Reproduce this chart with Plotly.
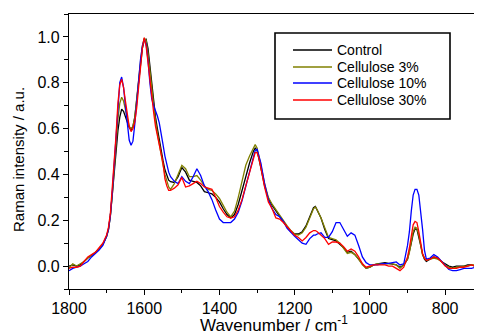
import plotly.graph_objects as go

wavenumber = [
    1800, 1790, 1780, 1770, 1760, 1750, 1740, 1730, 1720, 1710,
    1700, 1695, 1690, 1685, 1680, 1675, 1670, 1665, 1660, 1655,
    1650, 1645, 1640, 1635, 1630, 1625, 1620, 1615, 1610, 1605,
    1600, 1595, 1590, 1585, 1580, 1575, 1570, 1565, 1560, 1555,
    1550, 1545, 1540, 1535, 1530, 1520, 1510, 1500, 1490, 1480,
    1470, 1460, 1450, 1440, 1430, 1420, 1410, 1400, 1390, 1380,
    1370, 1360, 1350, 1340, 1330, 1320, 1310, 1305, 1300, 1295,
    1290, 1280, 1270, 1260, 1250, 1240, 1230, 1220, 1210, 1200,
    1190, 1180, 1170, 1160, 1150, 1145, 1140, 1130, 1120, 1110,
    1100, 1090, 1080, 1070, 1060, 1050, 1040, 1030, 1020, 1010,
    1000, 990, 980, 970, 960, 950, 940, 930, 920, 910,
    900, 895, 890, 885, 880, 875, 870, 865, 860, 855,
    850, 840, 830, 820, 810, 800, 790, 780, 770, 760,
    750, 740, 730, 720, 710, 702,
]

control = [
    0.00, 0.005, 0.00, 0.005, 0.02, 0.035, 0.045, 0.06, 0.075, 0.095,
    0.13, 0.16, 0.22, 0.31, 0.41, 0.51, 0.59, 0.65, 0.685, 0.675,
    0.65, 0.625, 0.605, 0.595, 0.61, 0.65, 0.72, 0.80, 0.88, 0.95,
    0.985, 0.99, 0.95, 0.87, 0.78, 0.70, 0.65, 0.60, 0.55, 0.51,
    0.46, 0.42, 0.395, 0.375, 0.368, 0.365, 0.39, 0.43, 0.41, 0.375,
    0.37, 0.365, 0.35, 0.325, 0.32, 0.315, 0.30, 0.28, 0.25, 0.225,
    0.21, 0.225, 0.27, 0.33, 0.40, 0.45, 0.50, 0.515, 0.505, 0.47,
    0.43, 0.35, 0.295, 0.265, 0.24, 0.22, 0.195, 0.17, 0.15, 0.14,
    0.14, 0.15, 0.175, 0.215, 0.255, 0.26, 0.245, 0.21, 0.16, 0.12,
    0.115, 0.11, 0.095, 0.08, 0.06, 0.065, 0.05, 0.03, 0.01, -0.01,
    -0.005, 0.005, 0.01, 0.012, 0.015, 0.012, 0.01, 0.005, -0.005, 0.005,
    0.03, 0.06, 0.10, 0.14, 0.163, 0.16, 0.13, 0.09, 0.05, 0.03,
    0.02, 0.03, 0.04, 0.035, 0.02, 0.01, 0.0, -0.005, 0.0, 0.0,
    0.0, 0.005, 0.005, 0.0, 0.005, 0.0,
]

cellulose_3 = [
    -0.01, 0.01, 0.0, 0.01, 0.02, 0.035, 0.045, 0.06, 0.075, 0.095,
    0.13, 0.16, 0.22, 0.31, 0.42, 0.54, 0.64, 0.71, 0.737, 0.72,
    0.68, 0.64, 0.61, 0.60, 0.61, 0.65, 0.72, 0.81, 0.89, 0.96,
    0.995, 0.985, 0.93, 0.85, 0.76, 0.69, 0.63, 0.58, 0.53, 0.48,
    0.44, 0.40, 0.37, 0.345, 0.335, 0.36, 0.40, 0.44, 0.425, 0.39,
    0.39, 0.395, 0.375, 0.35, 0.335, 0.33, 0.315, 0.295, 0.265, 0.235,
    0.215, 0.24, 0.30, 0.375, 0.44, 0.48, 0.515, 0.53, 0.515, 0.48,
    0.44, 0.36, 0.30, 0.27, 0.245, 0.225, 0.20, 0.175, 0.155, 0.14,
    0.135, 0.145, 0.17, 0.21, 0.25, 0.258, 0.245, 0.21, 0.17, 0.125,
    0.12, 0.115, 0.10, 0.08, 0.055, 0.06, 0.05, 0.03, 0.005, -0.01,
    -0.005, 0.005, 0.01, 0.01, 0.01, 0.01, 0.01, 0.005, -0.01, 0.005,
    0.03, 0.06, 0.11, 0.15, 0.17, 0.165, 0.135, 0.09, 0.05, 0.035,
    0.025, 0.03, 0.035, 0.03, 0.02, 0.005, -0.005, -0.01, -0.005, -0.005,
    0.0, 0.0, 0.005, 0.005, 0.0, 0.0,
]

cellulose_10 = [
    -0.02, -0.01, -0.005, 0.0, 0.01, 0.02, 0.04, 0.055, 0.07, 0.09,
    0.13, 0.16, 0.22, 0.32, 0.44, 0.58, 0.71, 0.80, 0.825, 0.78,
    0.70, 0.62, 0.55, 0.527, 0.545, 0.62, 0.72, 0.82, 0.90, 0.96,
    0.99, 0.97, 0.90, 0.80, 0.73, 0.70, 0.68, 0.655, 0.625, 0.585,
    0.53, 0.48, 0.44, 0.41, 0.39, 0.37, 0.36, 0.39, 0.37, 0.36,
    0.39, 0.425, 0.395, 0.35, 0.325, 0.29, 0.245, 0.205, 0.19, 0.19,
    0.19, 0.205, 0.235, 0.285, 0.35, 0.42, 0.48, 0.505, 0.51, 0.485,
    0.45, 0.36, 0.29, 0.25, 0.225, 0.215, 0.195, 0.165, 0.145, 0.13,
    0.115, 0.10, 0.095, 0.12, 0.135, 0.135, 0.14, 0.145, 0.125, 0.125,
    0.15, 0.19, 0.19, 0.16, 0.13, 0.145, 0.135, 0.09, 0.04, 0.015,
    0.005, 0.005, 0.005, 0.01, 0.01, 0.012, 0.015, 0.018, 0.005, 0.01,
    0.09, 0.15, 0.24, 0.31, 0.335, 0.335, 0.31, 0.24, 0.16, 0.07,
    0.03, 0.035, 0.05, 0.04, 0.02, 0.0, -0.015, -0.02, -0.02, -0.015,
    -0.01, -0.01, -0.01, -0.005, -0.005, -0.01,
]

cellulose_30 = [
    -0.01, -0.005, -0.005, 0.0, 0.02, 0.04, 0.05, 0.06, 0.08, 0.10,
    0.135, 0.17, 0.23, 0.33, 0.43, 0.57, 0.71, 0.79, 0.815, 0.78,
    0.72, 0.66, 0.61, 0.587, 0.60, 0.63, 0.69, 0.78, 0.87, 0.95,
    0.997, 0.96, 0.89, 0.81, 0.74, 0.67, 0.61, 0.565, 0.53, 0.49,
    0.45, 0.38, 0.35, 0.33, 0.33, 0.34, 0.355, 0.387, 0.345, 0.35,
    0.36, 0.37, 0.36, 0.345, 0.34, 0.335, 0.30, 0.26, 0.235, 0.215,
    0.21, 0.215, 0.245, 0.29, 0.35, 0.41, 0.47, 0.495, 0.495, 0.47,
    0.43, 0.345, 0.28, 0.25, 0.21, 0.205, 0.19, 0.17, 0.15, 0.135,
    0.125, 0.11, 0.125, 0.145, 0.155, 0.155, 0.15, 0.135, 0.12, 0.095,
    0.105, 0.105, 0.10, 0.085, 0.065, 0.075, 0.065, 0.04, 0.01, -0.005,
    0.0, 0.005, 0.005, 0.005, 0.005, 0.0, 0.0, -0.01, -0.02, -0.005,
    0.04, 0.08, 0.13, 0.18, 0.195, 0.19, 0.15, 0.10, 0.055, 0.035,
    0.025, 0.03, 0.04, 0.035, 0.02, 0.0, -0.01, -0.01, -0.01, -0.005,
    -0.005, 0.0, 0.005, 0.0, 0.0, -0.005,
]

series_names = ["Control", "Cellulose 3%", "Cellulose 10%", "Cellulose 30%"]
series_values = [control, cellulose_3, cellulose_10, cellulose_30]
series_colors = ["#000000", "#808000", "#0000ff", "#ff0000"]

x_ticks = [1800, 1600, 1400, 1200, 1000, 800]
y_ticks = [0.0, 0.2, 0.4, 0.6, 0.8, 1.0]

FONT = "Liberation Sans, Arial, sans-serif"

# The page places the figure 8 px in from the top-left corner (body margin),
# so the figure is sized / positioned to compensate.
OFF = 8
W, H = 482 - OFF, 334 - OFF

fig = go.Figure()
for name, vals, col in zip(series_names, series_values, series_colors):
    fig.add_trace(go.Scatter(x=wavenumber, y=vals, mode="lines", name=name,
                             line=dict(color=col, width=1.3), showlegend=False))

# plot area in screen pixels
L, R, T, B = 69, 482, 14, 289
def px(x):
    return (x - L) / (R - L)
def py(y):
    return (B - y) / (B - T)

shapes = [dict(type="rect", xref="paper", yref="paper",
               x0=px(275), x1=px(450), y0=py(119), y1=py(33),
               line=dict(color="#000000", width=1.6), fillcolor="white", layer="above")]
annotations = []
rows = [50, 67, 83, 100]
for name, col, ry in zip(series_names, series_colors, rows):
    shapes.append(dict(type="line", xref="paper", yref="paper",
                       x0=px(293), x1=px(332), y0=py(ry), y1=py(ry),
                       line=dict(color=col, width=1.3), layer="above"))
    annotations.append(dict(xref="paper", yref="paper", x=px(335), y=py(ry),
                            text=name, showarrow=False, xanchor="left", yanchor="middle",
                            font=dict(family=FONT, size=14, color="#000000")))

annotations.append(dict(xref="paper", yref="paper", x=px(274), y=py(324),
                        text="Wavenumber / cm<sup>-1</sup>", showarrow=False,
                        xanchor="center", yanchor="middle",
                        font=dict(family=FONT, size=17, color="#000000")))
annotations.append(dict(xref="paper", yref="paper", x=px(18), y=py(160),
                        text="Raman intensity / a.u.", showarrow=False, textangle=-90,
                        xanchor="center", yanchor="middle",
                        font=dict(family=FONT, size=15, color="#000000")))

fig.update_layout(
    width=W, height=H,
    margin=dict(l=L - OFF, r=482 - R, t=T - OFF, b=334 - B, autoexpand=False),
    paper_bgcolor="white", plot_bgcolor="white",
    font=dict(family=FONT, color="#000000"),
    shapes=shapes, annotations=annotations,
    showlegend=False,
)
fig.update_xaxes(
    range=[1800, 702], tickvals=x_ticks, ticktext=[str(v) for v in x_ticks],
    ticks="outside", ticklen=5, tickwidth=1, tickcolor="#000000",
    minor=dict(dtick=100, tick0=0, ticks="outside", ticklen=3, tickcolor="#000000"),
    showline=True, linecolor="#000000", linewidth=1.3, mirror=True,
    showgrid=False, zeroline=False, automargin=False,
    tickfont=dict(family=FONT, size=16),
)
fig.update_yaxes(
    range=[-0.1, 1.1], tickvals=y_ticks, ticktext=["%.1f" % v for v in y_ticks],
    ticks="outside", ticklen=5, tickwidth=1, tickcolor="#000000",
    minor=dict(dtick=0.1, tick0=0, ticks="outside", ticklen=4, tickcolor="#000000"),
    showline=True, linecolor="#000000", linewidth=1.3,
    showgrid=False, zeroline=False, automargin=False,
    tickfont=dict(family=FONT, size=16),
)

fig.write_html("out.html")
